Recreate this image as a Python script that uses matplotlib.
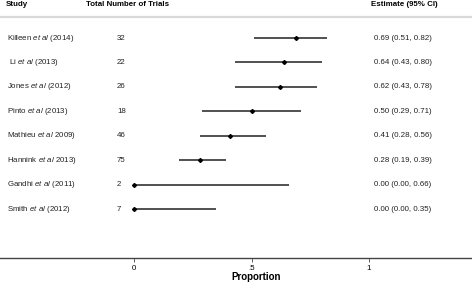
import matplotlib
matplotlib.use("Agg")
import matplotlib.pyplot as plt

plt.rcParams['font.family'] = ['Liberation Sans', 'DejaVu Sans']
plt.rcParams['mathtext.fontset'] = 'custom'
plt.rcParams['mathtext.rm'] = 'Liberation Sans'
plt.rcParams['mathtext.it'] = 'Liberation Sans:italic'

# 資料
studies = ["Killeen $\\mathit{et\\ al}$ (2014)", " Li $\\mathit{et\\ al}$ (2013)",
           "Jones $\\mathit{et\\ al}$ (2012)", "Pinto $\\mathit{et\\ al}$ (2013)",
           "Mathieu $\\mathit{et\\ al}$ 2009)", "Hannink $\\mathit{et\\ al}$ 2013)",
           "Gandhi $\\mathit{et\\ al}$ (2011)", "Smith $\\mathit{et\\ al}$ (2012)"]
trials = [32, 22, 26, 18, 46, 75, 2, 7]
est = [0.69, 0.64, 0.62, 0.50, 0.41, 0.28, 0.00, 0.00]
lo = [0.51, 0.43, 0.43, 0.29, 0.28, 0.19, 0.00, 0.00]
hi = [0.82, 0.80, 0.78, 0.71, 0.56, 0.39, 0.66, 0.35]
xticks = [0, 0.5, 1]
xticklabels = ["0", ".5", "1"]

W, H = 472, 295
fig = plt.figure(figsize=(W / 100, H / 100), dpi=100)
ax = fig.add_axes([0, (H - 258) / H, 1, 258 / H])

# x: 0 -> 134px, 1 -> 369px
ax.set_xlim(-134 / 235, (W - 134) / 235)
step = 24.43
ax.set_ylim((258 - 38) / step, -38 / step)

for i in range(len(est)):
    ax.plot([lo[i], hi[i]], [i, i], color='#222222', lw=1.1, solid_capstyle='butt')
    ax.plot(est[i], i, marker='D', ms=2.0, color='black')

tr = ax.get_yaxis_transform()
fs = 5.7
for i, s in enumerate(studies):
    ax.text(7 / W, i, s, transform=tr, fontsize=fs, va='center', ha='left', color='#222222')
    ax.text(117 / W, i, str(trials[i]), transform=tr, fontsize=fs, va='center', ha='left',
            color='#222222')
    ax.text(374 / W, i, "%.2f (%.2f, %.2f)" % (est[i], lo[i], hi[i]), transform=tr,
            fontsize=fs, va='center', ha='left', color='#222222')

# 表頭
fig.text(6 / W, 1 - 5 / H, "Study", fontsize=fs, weight='bold', va='center')
fig.text(86 / W, 1 - 5 / H, "Total Number of Trials", fontsize=fs, weight='bold', va='center')
fig.text(371 / W, 1 - 5 / H, "Estimate (95% CI)", fontsize=fs, weight='bold', va='center')
fig.add_artist(plt.Line2D([0, 1], [1 - 17 / H, 1 - 17 / H], color='#d9d9d9', lw=1.6,
                          transform=fig.transFigure))

for sp in ['top', 'right', 'left']:
    ax.spines[sp].set_visible(False)
ax.spines['bottom'].set_color('#444444')
ax.spines['bottom'].set_linewidth(1.0)
ax.set_yticks([])
ax.set_xticks(xticks)
ax.set_xticklabels(xticklabels, fontsize=fs)
ax.tick_params(axis='x', length=3, width=0.6, color='#444444', pad=2)
fig.text(256 / W, 1 - 277 / H, "Proportion", fontsize=7, weight='bold', ha='center', va='center')

fig.savefig("out.png", dpi=100)
